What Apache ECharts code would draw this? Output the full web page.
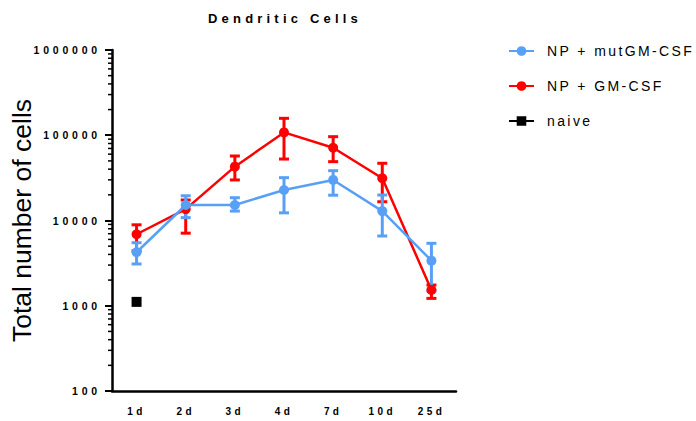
<!DOCTYPE html>
<html>
<head>
<meta charset="utf-8">
<title>Dendritic Cells</title>
<script src="https://cdn.jsdelivr.net/npm/echarts@6/dist/echarts.min.js"></script>
<style>
  html, body { margin: 0; padding: 0; background: #fff; }
  #chart { width: 696px; height: 421px; }
  /* spaced-out lettering for tick labels, title and legend */
  #chart text[style*="10px"] { letter-spacing: 3.4px; }
  #chart text[style*="10.5px"] { letter-spacing: 3.8px; }
  #chart text[style*="13px"] { letter-spacing: 4.2px; }
  #chart text[style*="14px"] { letter-spacing: 2.4px; }
</style>
</head>
<body>
<div id="chart"></div>
<script>
// Time points after treatment
const categories = ['1d', '2d', '3d', '4d', '7d', '10d', '25d'];

// NP + mutGM-CSF: mean and error-bar limits
const mutMean = [4240, 15200, 15200, 22800, 29900, 12900, 3380];
const mutLow  = [3090, 10800, 12900, 12300, 19800, 6580, 1500];
const mutHigh = [5490, 19500, 18500, 31800, 38400, 19900, 5400];

// NP + GM-CSF: mean and error-bar limits
const gmMean = [6900, 13600, 42800, 108000, 71400, 31300, 1530];
const gmLow  = [4400, 7100, 29900, 52600, 49000, 16600, 1220];
const gmHigh = [8900, 17400, 57100, 158000, 96200, 46900, 1750];

// Untreated control, measured at day 1 only
const naive = [1110, null, null, null, null, null, null];

// Log-axis decades and the in-between minor tick multipliers
const decades = [100, 1000, 10000, 100000];
const minorSteps = [2, 3, 4, 5, 6, 7, 8, 9];

const BLUE = '#58a0f6';
const RED = '#ff0000';
const BLACK = '#000000';

const minorTicks = [];
decades.forEach(d => minorSteps.forEach(m => minorTicks.push([0, d * m])));

function errorBars(color) {
  return function (params, api) {
    const x = api.value(0);
    const lo = api.coord([x, api.value(1)]);
    const hi = api.coord([x, api.value(2)]);
    const half = 5;
    const style = { stroke: color, lineWidth: 3, lineCap: 'butt' };
    return {
      type: 'group',
      children: [
        { type: 'line', shape: { x1: lo[0], y1: lo[1], x2: hi[0], y2: hi[1] }, style },
        { type: 'line', shape: { x1: lo[0] - half, y1: lo[1], x2: lo[0] + half, y2: lo[1] }, style },
        { type: 'line', shape: { x1: hi[0] - half, y1: hi[1], x2: hi[0] + half, y2: hi[1] }, style }
      ]
    };
  };
}

function minorTick(params, api) {
  const p = api.coord([0, api.value(1)]);
  const x0 = params.coordSys.x;
  return {
    type: 'line',
    shape: { x1: x0 - 4, y1: p[1], x2: x0, y2: p[1] },
    style: { stroke: BLACK, lineWidth: 1.5 }
  };
}

const chart = echarts.init(document.getElementById('chart'), null, { renderer: 'svg' });

chart.setOption({
  animation: false,
  backgroundColor: '#ffffff',
  textStyle: { fontFamily: 'Arial' },
  graphic: [{
    type: 'text',
    x: 285,
    y: 18,
    style: {
      text: 'Dendritic Cells',
      fontFamily: 'Arial',
      fontWeight: 'bold',
      fontSize: 13,
      fill: BLACK,
      textAlign: 'center',
      textVerticalAlign: 'middle'
    }
  }],
  legend: {
    data: ['NP + mutGM-CSF', 'NP + GM-CSF', 'naive'],
    orient: 'vertical',
    left: 503,
    top: 39,
    itemWidth: 25,
    itemHeight: 12,
    itemGap: 21,
    textStyle: { fontFamily: 'Arial', fontSize: 14, color: BLACK, padding: [0, 0, 0, 8] }
  },
  grid: { left: 112, top: 50, width: 344, height: 341 },
  xAxis: {
    type: 'category',
    data: categories,
    boundaryGap: true,
    axisLine: { lineStyle: { color: BLACK, width: 2.5 } },
    axisTick: { alignWithLabel: true, length: 6, lineStyle: { color: BLACK, width: 2 } },
    axisLabel: { color: BLACK, fontFamily: 'Arial', fontWeight: 'bold', fontSize: 10, margin: 15 },
    splitLine: { show: false }
  },
  yAxis: {
    type: 'log',
    logBase: 10,
    min: 100,
    max: 1000000,
    name: 'Total number of cells',
    nameLocation: 'middle',
    nameGap: 77,
    nameTextStyle: { fontFamily: 'Arial', fontSize: 26.5, color: BLACK },
    axisLine: { show: true, lineStyle: { color: BLACK, width: 2.5 } },
    axisTick: { show: true, length: 7, lineStyle: { color: BLACK, width: 2 } },
    axisLabel: {
      color: BLACK, fontFamily: 'Arial', fontWeight: 'bold', fontSize: 10.5, margin: 11,
      formatter: v => String(Math.round(v))
    },
    splitLine: { show: false }
  },
  series: [
    {
      name: 'NP + mutGM-CSF',
      type: 'line',
      data: mutMean,
      z: 4,
      symbol: 'circle',
      symbolSize: 10,
      color: BLUE,
      lineStyle: { color: BLUE, width: 2.5 },
      itemStyle: { color: BLUE }
    },
    {
      name: 'NP + GM-CSF',
      type: 'line',
      data: gmMean,
      z: 3,
      symbol: 'circle',
      symbolSize: 10,
      color: RED,
      lineStyle: { color: RED, width: 2.5 },
      itemStyle: { color: RED }
    },
    {
      name: 'naive',
      type: 'line',
      data: naive,
      z: 3,
      symbol: 'rect',
      symbolSize: 10,
      color: BLACK,
      lineStyle: { color: BLACK, width: 2.5 },
      itemStyle: { color: BLACK }
    },
    {
      type: 'custom',
      z: 2,
      renderItem: errorBars(RED),
      encode: { x: 0, y: [1, 2] },
      data: categories.map((c, i) => [i, gmLow[i], gmHigh[i]])
    },
    {
      type: 'custom',
      z: 3,
      renderItem: errorBars(BLUE),
      encode: { x: 0, y: [1, 2] },
      data: categories.map((c, i) => [i, mutLow[i], mutHigh[i]])
    },
    {
      type: 'custom',
      z: 1,
      silent: true,
      renderItem: minorTick,
      encode: { x: 0, y: 1 },
      data: minorTicks
    }
  ]
});
</script>
</body>
</html>
